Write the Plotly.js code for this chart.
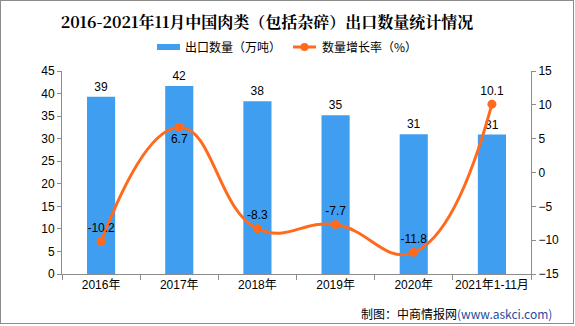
<!DOCTYPE html>
<html>
<head>
<meta charset="utf-8">
<script src="https://cdn.plot.ly/plotly-3.0.1.min.js"></script>
<style>
html,body{margin:0;padding:0;background:#fff;}
#wrap{position:relative;width:575px;height:326px;}
#chart{width:575px;height:326px;}
#frame{position:absolute;left:0;top:0;width:574px;height:324px;box-sizing:border-box;border:1px solid #8c8c8c;pointer-events:none;}
</style>
</head>
<body>
<div id="wrap"><div id="chart"></div><div id="frame"></div></div>
<script>
const categories = ['2016年','2017年','2018年','2019年','2020年','2021年1-11月'];
const exportVolume = [39.3, 41.7, 38.3, 35.2, 31.0, 30.9];
const growthRate = [-10.2, 6.7, -8.3, -7.7, -11.8, 10.1];
const growthLabelPos = ['top center','bottom center','top center','top center','top center','top center'];
const barName = '出口数量（万吨）';
const lineName = '数量增长率（%）';

const FONT = 'Liberation Sans, Arial, "Noto Sans CJK SC", sans-serif';
const BLUE = '#409ef0';
const ORANGE = '#ff6a1c';

const traces = [
  {
    type: 'bar', x: categories, y: exportVolume, name: barName,
    marker: {color: BLUE}, width: 0.36,
    texttemplate: '%{y:.0f}', textposition: 'outside', cliponaxis: false,
    textfont: {family: FONT, size: 12, color: '#000'},
    hoverinfo: 'skip'
  },
  {
    type: 'scatter', mode: 'lines+markers+text', x: categories, y: growthRate, name: lineName,
    yaxis: 'y2',
    line: {color: ORANGE, width: 3, shape: 'spline', smoothing: 1.3},
    marker: {color: ORANGE, size: 9},
    text: growthRate.map(v => v.toFixed(1)), textposition: growthLabelPos,
    textfont: {family: FONT, size: 12, color: '#000'}, cliponaxis: false,
    hoverinfo: 'skip'
  }
];

const layout = {
  width: 575, height: 326,
  margin: {l: 62, r: 44, t: 71, b: 52},
  paper_bgcolor: '#fff', plot_bgcolor: '#fff',
  showlegend: false,
  bargap: 0.64,
  font: {family: FONT, size: 12, color: '#000'},
  title: {
    text: '<b>2016-2021年11月中国肉类（包括杂碎）出口数量统计情况</b>',
    font: {family: '"Noto Serif CJK SC", "Noto Sans CJK SC", serif', size: 16, color: '#000'},
    x: 267 / 575, xanchor: 'center', xref: 'container',
    y: 1 - 22 / 326, yanchor: 'middle', yref: 'container'
  },
  xaxis: {
    type: 'category', showgrid: false, zeroline: false,
    showline: true, linecolor: '#8c8c8c', linewidth: 1,
    ticks: 'outside', tickson: 'boundaries', ticklen: 5, tickcolor: '#8c8c8c',
    tickangle: 0, automargin: false,
    tickfont: {family: FONT, size: 12, color: '#000'}, fixedrange: true
  },
  yaxis: {
    range: [0, 45], dtick: 5, showgrid: false, zeroline: false,
    showline: true, linecolor: '#8c8c8c', linewidth: 1,
    ticks: 'outside', ticklen: 4, tickcolor: '#8c8c8c',
    tickfont: {family: FONT, size: 12, color: '#000'}, fixedrange: true
  },
  yaxis2: {
    range: [-15, 15], dtick: 5, overlaying: 'y', side: 'right', showgrid: false, zeroline: false,
    showline: true, linecolor: '#8c8c8c', linewidth: 1,
    ticks: 'outside', ticklen: 4, tickcolor: '#8c8c8c',
    tickfont: {family: FONT, size: 12, color: '#000'}, fixedrange: true
  },
  shapes: [
    {type: 'rect', xref: 'paper', yref: 'paper',
     x0: (157 - 62) / 469, x1: (180 - 62) / 469, y0: 1 + (71 - 50) / 203, y1: 1 + (71 - 44) / 203,
     fillcolor: BLUE, line: {width: 0}},
    {type: 'line', xref: 'paper', yref: 'paper',
     x0: (293 - 62) / 469, x1: (316 - 62) / 469, y0: 1 + (71 - 47) / 203, y1: 1 + (71 - 47) / 203,
     line: {color: ORANGE, width: 3}},
    {type: 'circle', xref: 'paper', yref: 'paper',
     x0: (300.5 - 62) / 469, x1: (308.5 - 62) / 469, y0: 1 + (71 - 51) / 203, y1: 1 + (71 - 43) / 203,
     fillcolor: ORANGE, line: {width: 0}}
  ],
  annotations: [
    {text: barName, xref: 'paper', yref: 'paper', x: (183 - 62) / 469, y: 1 + (71 - 47) / 203,
     xanchor: 'left', yanchor: 'middle', showarrow: false,
     font: {family: '"Noto Sans CJK SC", sans-serif', size: 12, color: '#000'}},
    {text: lineName, xref: 'paper', yref: 'paper', x: (320 - 62) / 469, y: 1 + (71 - 47) / 203,
     xanchor: 'left', yanchor: 'middle', showarrow: false,
     font: {family: '"Noto Sans CJK SC", sans-serif', size: 12, color: '#000'}},
    {text: '制图：中商情报网<span style="color:#1f4e9c">(www.askci.com)</span>',
     xref: 'paper', yref: 'paper', x: (554 - 62) / 469, y: -(313 - 274) / 203,
     xanchor: 'right', yanchor: 'middle', showarrow: false,
     font: {family: '"Noto Sans CJK SC", sans-serif', size: 12, color: '#000'}}
  ]
};

Plotly.newPlot('chart', traces, layout, {displayModeBar: false, staticPlot: true});
</script>
</body>
</html>
